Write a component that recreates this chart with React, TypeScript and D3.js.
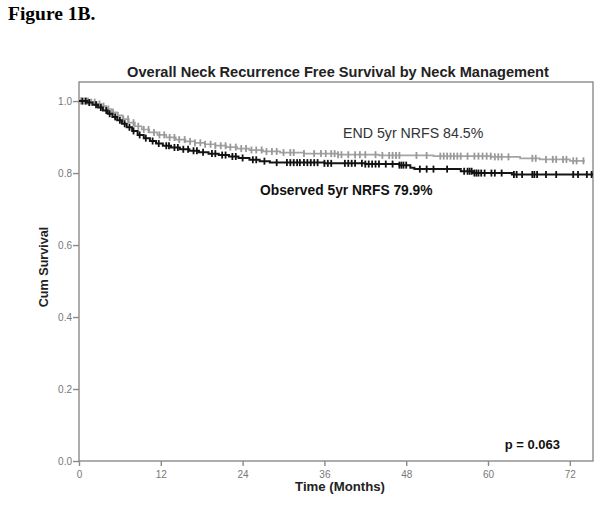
import React, { useEffect, useRef } from 'react';
import * as d3 from 'd3';

// [time (months), cumulative survival] at each event
const observedSteps: [number, number][] = [
  [0, 1.0], [1.2, 0.996], [2.0, 0.99], [2.8, 0.982], [3.5, 0.974], [4.2, 0.965],
  [4.9, 0.956], [5.6, 0.947], [6.3, 0.937], [7.0, 0.927], [7.8, 0.917], [8.6, 0.906],
  [9.5, 0.897], [10.4, 0.889], [11.3, 0.882], [12.3, 0.876], [13.5, 0.871], [14.8, 0.866],
  [16.2, 0.862], [17.6, 0.858], [19.0, 0.854], [20.5, 0.85], [22.0, 0.846], [23.4, 0.842],
  [25.0, 0.837], [26.5, 0.833], [28.0, 0.829], [36.0, 0.827], [42.0, 0.825], [47.0, 0.822],
  [48.6, 0.815], [49.2, 0.811], [56.0, 0.805], [57.8, 0.8], [63.5, 0.796],
];
const observedEnd = 75.4;
const observedCensored = [
  0.5, 1, 1.5, 2.5, 3.2, 4, 4.5, 5.3, 6, 6.7, 7.4, 8, 8.9, 9.8, 10.8, 11.7, 12.8, 13.2,
  14, 14.5, 15.3, 16, 16.8, 17.3, 18.2, 19.5, 20, 21, 21.5, 22.5, 23, 24, 25.5, 26, 27.2,
  29, 30.5, 31, 31.5, 32, 32.4, 33, 33.5, 34, 34.5, 35, 36, 36.5, 37, 39, 39.5, 40, 40.5,
  41.5, 42, 42.5, 43, 43.5, 44, 45, 46, 47, 47.3, 47.6, 48, 50, 51, 52, 54, 56.5, 57, 57.3,
  57.6, 58, 58.3, 58.6, 59, 59.5, 60.5, 61, 62, 63.8, 64.2, 65, 66.5, 66.8, 67.2, 68.5, 70,
  72.5, 73.2, 74.5, 75.2,
];

const endSteps: [number, number][] = [
  [0, 1.0], [1.8, 0.997], [2.6, 0.992], [3.3, 0.986], [4.0, 0.978], [4.8, 0.969],
  [5.6, 0.96], [6.4, 0.95], [7.3, 0.94], [8.2, 0.93], [9.2, 0.921], [10.3, 0.913],
  [11.5, 0.906], [12.8, 0.899], [14.2, 0.893], [15.6, 0.888], [17.0, 0.884], [18.5, 0.88],
  [20.0, 0.876], [21.6, 0.872], [23.2, 0.868], [25.0, 0.864], [27.0, 0.86], [29.5, 0.857],
  [33.0, 0.854], [38.0, 0.851], [44.0, 0.849], [52.0, 0.847], [60.5, 0.845], [64.7, 0.841],
  [67.6, 0.838], [72.0, 0.834],
];
const endEnd = 74.2;
const endCensored = [
  0.3, 0.8, 1.3, 1.8, 2.3, 3, 3.6, 4.3, 5, 5.7, 6.5, 7.2, 8, 8.7, 9.5, 10.2, 11, 11.8,
  12.5, 13.3, 14, 14.7, 15.5, 16.3, 17, 17.8, 18.5, 19.3, 20, 20.8, 21.5, 22.2, 23, 23.8,
  24.5, 25.3, 26, 26.8, 27.5, 28.3, 29, 30, 31, 31.5, 33, 34.5, 35.5, 36.2, 37, 37.5, 38,
  38.5, 39.5, 40.5, 41.2, 42, 43.5, 44.5, 45.5, 46, 46.5, 47, 49.5, 51, 53, 53.5, 54, 54.5,
  55, 55.5, 56, 57, 58, 58.6, 59.2, 59.8, 60.4, 61, 61.5, 62, 63, 66.5, 67, 68.5, 69.5, 70,
  71, 71.5, 72.5, 73, 74,
];

const xTicks = [0, 12, 24, 36, 48, 60, 72];
const yTicks = [0, 0.2, 0.4, 0.6, 0.8, 1.0];

const App: React.FC = () => {
  const ref = useRef<SVGSVGElement | null>(null);

  useEffect(() => {
    if (!ref.current) return;
    const svg = d3.select(ref.current);
    svg.selectAll('*').remove();

    const left = 79, right = 593, top = 82, bottom = 461;
    const sans = '"Liberation Sans", Arial, sans-serif';

    const x = d3.scaleLinear().domain([0, 75.4]).range([left, right]);
    const y = d3.scaleLinear().domain([0, 1.053]).range([bottom, top]);

    svg.append('rect').attr('width', 604).attr('height', 514).attr('fill', '#fff');

    svg.append('text')
      .attr('x', 8).attr('y', 20)
      .attr('font-family', '"Liberation Serif", "Times New Roman", serif')
      .attr('font-weight', 'bold').attr('font-size', 19.5)
      .text('Figure 1B.');

    svg.append('text')
      .attr('x', 338).attr('y', 77)
      .attr('text-anchor', 'middle')
      .attr('font-family', sans)
      .attr('font-weight', 'bold').attr('font-size', 14.6)
      .attr('fill', '#222')
      .text('Overall Neck Recurrence Free Survival by Neck Management');

    // frame
    svg.append('rect')
      .attr('x', left).attr('y', top)
      .attr('width', right - left).attr('height', bottom - top)
      .attr('fill', 'none').attr('stroke', '#8a8a8a').attr('stroke-width', 1.4);

    const xAxis = svg.append('g')
      .attr('transform', `translate(0,${bottom})`)
      .call(d3.axisBottom(x).tickValues(xTicks).tickSize(5).tickFormat(d3.format('d')));
    const yAxis = svg.append('g')
      .attr('transform', `translate(${left},0)`)
      .call(d3.axisLeft(y).tickValues(yTicks).tickSize(6).tickFormat(d3.format('.1f')));

    [xAxis, yAxis].forEach(g => {
      g.select('.domain').remove();
      g.selectAll('line').attr('stroke', '#8a8a8a').attr('stroke-width', 1.4);
      g.selectAll('text')
        .attr('font-family', sans)
        .attr('font-size', 10).attr('fill', '#777');
    });
    xAxis.selectAll('text').attr('dy', '0.85em');
    yAxis.selectAll('text').attr('x', -7);

    const plot = svg.append('g');

    const drawCurve = (steps: [number, number][], end: number, censored: number[],
                       color: string, markColor: string, width: number) => {
      const pts: [number, number][] = [...steps, [end, steps[steps.length - 1][1]]];
      const line = d3.line<[number, number]>()
        .x(d => x(d[0])).y(d => y(d[1]))
        .curve(d3.curveStepAfter);
      plot.append('path')
        .attr('d', line(pts) || '')
        .attr('fill', 'none').attr('stroke', color).attr('stroke-width', width);
      const bis = d3.bisector((d: [number, number]) => d[0]).right;
      const at = (t: number) => y(steps[Math.max(0, bis(steps, t) - 1)][1]);
      plot.append('g').selectAll('line')
        .data(censored)
        .join('line')
        .attr('x1', d => x(d)).attr('x2', d => x(d))
        .attr('y1', d => at(d) - 3.5)
        .attr('y2', d => at(d) + 3.5)
        .attr('stroke', markColor).attr('stroke-width', 1.8);
    };

    drawCurve(endSteps, endEnd, endCensored, '#a4a4a4', '#999', 1.7);
    drawCurve(observedSteps, observedEnd, observedCensored, '#151515', '#111', 2);

    svg.append('text')
      .attr('x', 343).attr('y', 138)
      .attr('font-family', sans)
      .attr('font-size', 14.2).attr('fill', '#333')
      .text('END 5yr NRFS 84.5%');

    svg.append('text')
      .attr('x', 260).attr('y', 195)
      .attr('font-family', sans)
      .attr('font-weight', 'bold').attr('font-size', 13.8).attr('fill', '#111')
      .text('Observed 5yr NRFS 79.9%');

    svg.append('text')
      .attr('x', 560).attr('y', 449)
      .attr('text-anchor', 'end')
      .attr('font-family', sans)
      .attr('font-weight', 'bold').attr('font-size', 13).attr('fill', '#111')
      .text('p = 0.063');

    svg.append('text')
      .attr('x', 340).attr('y', 491)
      .attr('text-anchor', 'middle')
      .attr('font-family', sans)
      .attr('font-weight', 'bold').attr('font-size', 13.2).attr('fill', '#222')
      .text('Time (Months)');

    svg.append('text')
      .attr('transform', `translate(48,267) rotate(-90)`)
      .attr('text-anchor', 'middle')
      .attr('font-family', sans)
      .attr('font-weight', 'bold').attr('font-size', 12.6).attr('fill', '#222')
      .text('Cum Survival');
  }, []);

  return (
    <svg ref={ref} width={604} height={514}
      style={{ position: 'absolute', left: 0, top: 0, display: 'block' }} />
  );
};

export default App;
